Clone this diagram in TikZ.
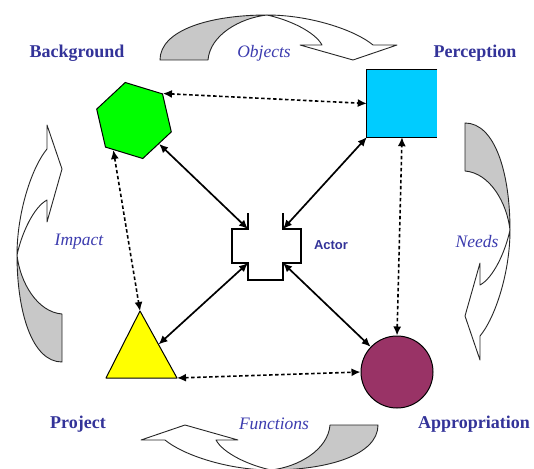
\documentclass[tikz,border=0pt]{standalone}
\usepackage{fontspec}
\setmainfont{Liberation Serif}
\setsansfont{Liberation Sans}
\usetikzlibrary{shapes.geometric,arrows.meta,calc}

\definecolor{labelblue}{RGB}{51,51,153}
\definecolor{flowblue}{RGB}{60,60,175}
\definecolor{hexgreen}{RGB}{0,255,0}
\definecolor{sqcyan}{RGB}{0,204,255}
\definecolor{triyellow}{RGB}{255,255,0}
\definecolor{circplum}{RGB}{153,51,102}
\definecolor{ribbongrey}{RGB}{200,200,200}

\tikzset{
  x=1pt, y=-1pt,
  lbl/.style={font=\fontsize{18}{20}\selectfont\bfseries, text=labelblue, inner sep=0pt},
  flow/.style={font=\fontsize{17.5}{20}\selectfont\itshape, text=flowblue, inner sep=0pt},
  actorlbl/.style={font=\sffamily\fontsize{13}{15}\selectfont\bfseries, text=labelblue, inner sep=0pt},
  outline/.style={draw=black, line width=1pt},
  link/.style={line width=1.7pt, black, {Latex[length=9pt,width=8pt]}-{Latex[length=9pt,width=8pt]}},
  dlink/.style={link, line width=1.6pt, dash pattern=on 3.5pt off 2.5pt},
  % twisted ribbon arrow, drawn in its own frame: foot at the origin, head to the right
  ribbon/.pic={
    \path[draw=black!85, line width=0.9pt, fill=ribbongrey, line join=round]
      (0,0) .. controls (0,-30) and (50,-45) .. (107,-45)
      .. controls (80,-42) and (50,-25) .. (48,0) -- cycle;
    \path[draw=black!85, line width=0.9pt, fill=white, line join=round]
      (107,-45) .. controls (150,-45) and (195,-30) .. (213,-15)
      -- (237,-15) -- (193,0) -- (140,-15) -- (162,-15)
      .. controls (155,-28) and (130,-40) .. (107,-45) -- cycle;
  }
}

\begin{document}
\begin{tikzpicture}
\useasboundingbox (0,0) rectangle (534,468);
\fill[white] (0,0) rectangle (534,468);

% ribbon arrows around the cycle
\pic at (160,60) {ribbon};
\pic[rotate=-90] at (465,123) {ribbon};
\pic[rotate=180] at (378,425) {ribbon};
\pic[rotate=90] at (62,362) {ribbon};

% background: hexagon
\node[regular polygon, regular polygon sides=6, shape border rotate=-17,
      minimum size=78pt, inner sep=0pt, fill=hexgreen, outline] (hex) at (134,120.5) {};

% perception: square, open on the right
\node[rectangle, minimum width=70pt, minimum height=67pt, inner sep=0pt, fill=sqcyan] (sq) at (402,103.5) {};
\draw[line width=1.2pt] (sq.north east) -- (sq.north west) -- (sq.south west) -- (sq.south east);

% appropriation: circle
\node[circle, minimum size=72pt, inner sep=0pt, fill=circplum, outline] (circ) at (397,372) {};

% project: triangle
\coordinate (triA) at (140,311);
\coordinate (triL) at (106,378);
\coordinate (triR) at (177,378);
\coordinate (triE) at ($(triA)!0.5!(triR)$);
\path[fill=triyellow, outline, line join=round] (triA) -- (triL) -- (triR) -- cycle;

% actor: cross-shaped socket
\coordinate (actTL) at (248,229);
\coordinate (actTR) at (283,229);
\coordinate (actBL) at (248,263);
\coordinate (actBR) at (283,263);
\path[fill=white, draw=black, line width=1.2pt]
  (248,213) -- (actTL) -- (232,229) -- (232,263) -- (actBL) -- (248,280)
  -- (283,280) -- (actBR) -- (301,263) -- (301,229) -- (actTR) -- (283,213);
\node[actorlbl] (actor) at (331,245) {Actor};

% dashed links between the outer elements
\draw[dlink] (hex.43) -- (sq.west);
\draw[dlink] (hex.235) -- (triA);
\draw[dlink] (triR) -- (circ.west);
\draw[dlink] (circ.north) -- (sq.south);

% solid links to the actor
\draw[link] (hex.-43) -- (actTL);
\draw[link] (sq.south west) -- (actTR);
\draw[link] (triE) -- (actBL);
\draw[link] (circ) -- (actBR);

% labels
\node[lbl] (bg) at (77,53) {Background};
\node[lbl] (pc) at (475,53) {Perception};
\node[lbl] (pj) at (78,424) {Project};
\node[lbl] (ap) at (474,424) {Appropriation};
\node[flow] (objects) at (264,53) {Objects};
\node[flow] (impact) at (79,242) {Impact};
\node[flow] (needs) at (477,242) {Needs};
\node[flow] (functions) at (274,424) {Functions};
\end{tikzpicture}
\end{document}
